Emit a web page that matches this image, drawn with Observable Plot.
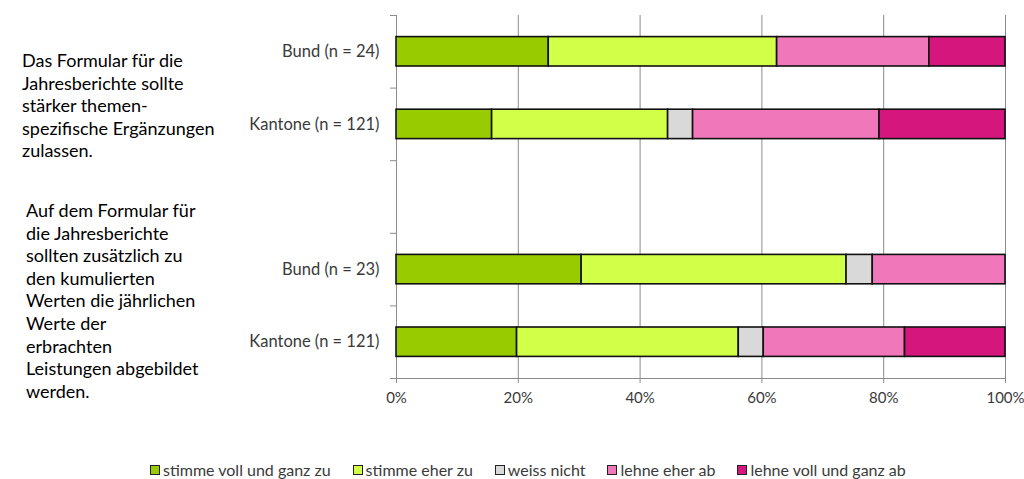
<!DOCTYPE html>
<html>
<head>
<meta charset="utf-8">
<script src="https://cdn.jsdelivr.net/npm/d3@7"></script>
<script src="https://cdn.jsdelivr.net/npm/@observablehq/plot@0.6"></script>
<style>
  html, body { margin: 0; padding: 0; background: #fff; }
  #wrap { position: relative; width: 1024px; height: 479px; overflow: hidden; font-family: Lato, "Open Sans", sans-serif; }
  #chart { position: absolute; left: 0; top: 0; }
  .q { position: absolute; font-size: 18px; line-height: 22.6px; color: #000; white-space: pre; }
  #legend { position: absolute; top: 460px; left: 150px; display: flex; gap: 22px; font-size: 16px; color: #3a3a3a; }
  .item { display: flex; align-items: center; }
  .sw { width: 8px; height: 8px; border: 1.5px solid #222; margin-right: 3px; }
</style>
</head>
<body>
<div id="wrap">
  <div id="chart"></div>
  <div class="q" id="q1" style="left:22px; top:49px;"></div>
  <div class="q" id="q2" style="left:26px; top:199px;"></div>
  <div id="legend"></div>
</div>
<script>
// ---- data ----
const answers = ["stimme voll und ganz zu", "stimme eher zu", "weiss nicht", "lehne eher ab", "lehne voll und ganz ab"];
const colors = ["#99CC00", "#D2FF47", "#D9D9D9", "#F077B9", "#D5177D"];
const rowLabels = ["Bund (n = 24)", "Kantone (n = 121)", "", "Bund (n = 23)", "Kantone (n = 121)"];
const q1Bund = [25.0, 37.5, 0.0, 25.0, 12.5];
const q1Kantone = [15.7, 28.9, 4.1, 30.6, 20.7];
const q2Bund = [30.4, 43.5, 4.3, 21.8, 0.0];
const q2Kantone = [19.8, 36.4, 4.1, 23.2, 16.5];
const xTicks = [0, 20, 40, 60, 80, 100];
const question1 = "Das Formular für die\nJahresberichte sollte\nstärker themen-\nspezifische Ergänzungen\nzulassen.";
const question2 = "Auf dem Formular für\ndie Jahresberichte\nsollten zusätzlich zu\nden kumulierten\nWerten die jährlichen\nWerte der\nerbrachten\nLeistungen abgebildet\nwerden.";

// ---- table ----
const seriesByRow = [q1Bund, q1Kantone, null, q2Bund, q2Kantone];
const data = [];
seriesByRow.forEach((vals, row) => {
  if (!vals) return;
  vals.forEach((v, k) => { if (v > 0) data.push({row, answer: answers[k], value: v}); });
});
const rows = rowLabels.map((label, row) => ({row, label})).filter(d => d.label);

const font = "Lato, 'Open Sans', sans-serif";
const chart = Plot.plot({
  width: 1024,
  height: 420,
  marginLeft: 396,
  marginRight: 19,
  marginTop: 15,
  marginBottom: 42,
  style: {fontFamily: font, fontSize: "15px", color: "#3a3a3a", background: "#fff"},
  x: {domain: [0, 100]},
  y: {domain: [0, rowLabels.length], reverse: true},
  color: {domain: answers, range: colors},
  marks: [
    Plot.gridX(xTicks.slice(1), {stroke: "#8c8c8c", strokeOpacity: 1}),
    Plot.axisY({ticks: d3.range(rowLabels.length + 1), tickSize: 6, tickFormat: () => "", stroke: "#8c8c8c", label: null}),
    Plot.axisX({ticks: xTicks, tickSize: 5, tickPadding: 9, tickFormat: d => d + "%", stroke: "#8c8c8c", fill: "#3a3a3a", label: null, fontSize: 15}),
    Plot.ruleX([0], {stroke: "#8c8c8c"}),
    Plot.ruleY([rowLabels.length], {stroke: "#8c8c8c"}),
    Plot.rectX(data, Plot.stackX({
      x: "value",
      y1: d => d.row,
      y2: d => d.row + 1,
      fill: "answer",
      order: answers,
      insetTop: 21.6,
      insetBottom: 21.6,
      stroke: "#111",
      strokeWidth: 1.6
    })),
    Plot.text(rows, {x: 0, y: d => d.row + 0.5, text: "label", textAnchor: "end", dx: -17, fontSize: 16.5, fill: "#3a3a3a"})
  ]
});
document.getElementById("chart").append(chart);
document.getElementById("q1").textContent = question1;
document.getElementById("q2").textContent = question2;

const legend = document.getElementById("legend");
answers.forEach((a, i) => {
  const it = document.createElement("div");
  it.className = "item";
  const sw = document.createElement("span");
  sw.className = "sw";
  sw.style.background = colors[i];
  const t = document.createElement("span");
  t.textContent = a;
  it.append(sw, t);
  legend.append(it);
});
</script>
</body>
</html>
